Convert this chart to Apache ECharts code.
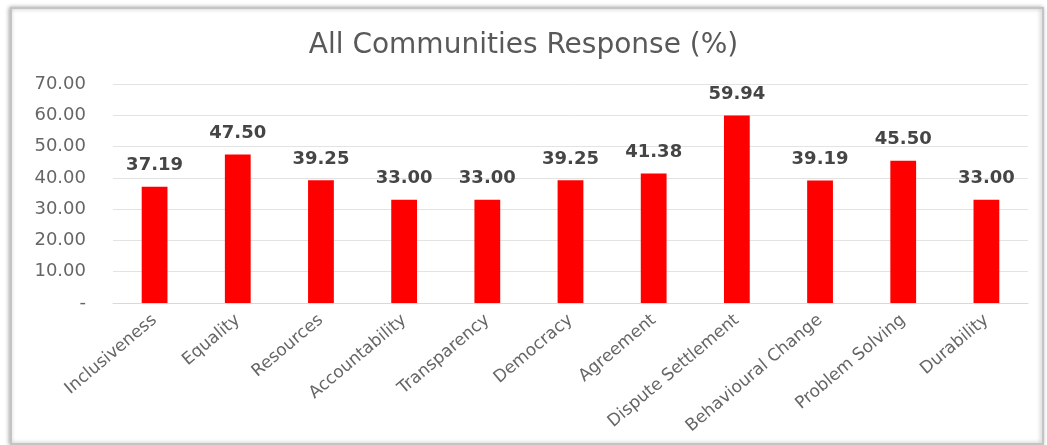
<!DOCTYPE html>
<html><head><meta charset="utf-8">
<script src="https://cdn.jsdelivr.net/npm/echarts@6/dist/echarts.min.js"></script>
<style>html,body{margin:0;padding:0;background:#fff;}#c{width:1047px;height:445px;}</style>
</head><body><div id="c"></div>
<script>
const categories = ['Inclusiveness','Equality','Resources','Accountability','Transparency','Democracy','Agreement','Dispute Settlement','Behavioural Change','Problem Solving','Durability'];
const values = [37.19,47.50,39.25,33.00,33.00,39.25,41.38,59.94,39.19,45.50,33.00];
const yTicks = [0,10,20,30,40,50,60,70];
const chart = echarts.init(document.getElementById('c'));
chart.setOption({
  animation:false,
  backgroundColor:'#fff',
  graphic:[{type:'rect',shape:{x:11,y:8,width:1032,height:436},style:{fill:'#fff',stroke:'#c4c4c4',lineWidth:2,shadowBlur:4,shadowColor:'rgba(0,0,0,0.3)',shadowOffsetX:-1,shadowOffsetY:0},z:-10,silent:true}],
  title:{text:'All Communities Response (%)',left:'center',top:27,textStyle:{fontFamily:'DejaVu Sans',fontSize:28,fontWeight:'normal',color:'#595959'}},
  grid:{left:113,right:19,top:84,bottom:142,containLabel:false},
  xAxis:{type:'category',data:categories,axisTick:{show:false},axisLine:{lineStyle:{color:'#d9d9d9'}},
    axisLabel:{rotate:40,interval:0,margin:15,fontFamily:'DejaVu Sans',fontSize:17,color:'#666666'}},
  yAxis:{type:'value',min:yTicks[0],max:yTicks[yTicks.length-1],interval:10,axisLine:{show:false},axisTick:{show:false},
    splitLine:{lineStyle:{color:'#e3e3e3'}},
    axisLabel:{margin:27,fontFamily:'DejaVu Sans',fontSize:18,color:'#666666',formatter:v=>v===0?'-':v.toFixed(2)}},
  series:[{type:'bar',data:values,barWidth:'31%',itemStyle:{color:'#ff0000'},
    label:{show:true,position:'top',distance:12,fontFamily:'DejaVu Sans',fontSize:18,fontWeight:'bold',color:'#454545',formatter:p=>p.value.toFixed(2)}}]
});
</script></body></html>
